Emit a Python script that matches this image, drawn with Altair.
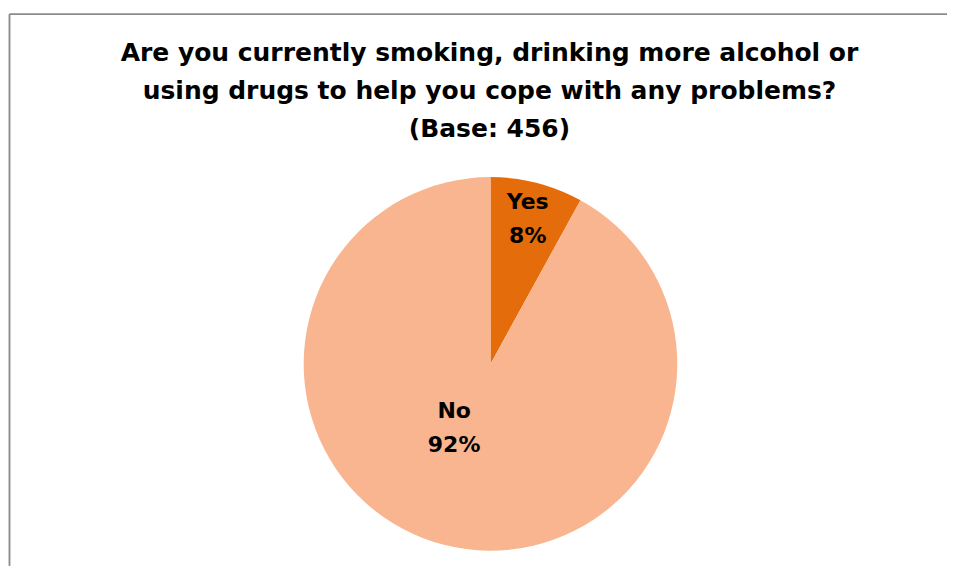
import altair as alt
import pandas as pd

categories = ["Yes", "No"]
percentages = [8, 92]
colors = ["#E46C0A", "#F9B590"]
title_lines = [
    "Are you currently smoking, drinking more alcohol or",
    "using drugs to help you cope with any problems?",
    "(Base: 456)",
]

df = pd.DataFrame({"category": categories, "pct": percentages, "order": list(range(len(categories)))})

W, H = 940, 418
CX, CY = 483, 216
FONT = "DejaVu Sans"

pie = alt.Chart(df).mark_arc(radius=187).encode(
    theta=alt.Theta("pct:Q", stack=True),
    order=alt.Order("order:Q"),
    color=alt.Color("category:N", scale=alt.Scale(domain=categories, range=colors), legend=None),
    x=alt.value(CX),
    y=alt.value(CY),
)

label_base = alt.Chart(df).transform_stack(
    stack="pct", groupby=[], as_=["start", "end"], sort=[alt.SortField("order", "ascending")]
).transform_calculate(
    mid="(datum.start + datum.end) / 2",
    label="datum.category + '\\n' + datum.pct + '%'",
).encode(
    theta=alt.Theta("mid:Q", stack=None),
    text="label:N",
    x=alt.value(CX),
    y=alt.value(CY),
)

txt = dict(font=FONT, fontSize=22, fontWeight="bold", color="#000000", lineBreak="\n",
           lineHeight=34, align="center", baseline="middle", dy=-17)

yes_label = label_base.transform_filter("datum.category == 'Yes'").mark_text(radius=150, **txt)
no_label = label_base.transform_filter("datum.category == 'No'").mark_text(radius=66, dx=-20, **txt)

border_top = alt.Chart(df).mark_rule(color="#8C8C8C", strokeWidth=1.5).encode(
    x=alt.value(1.5), x2=alt.value(W), y=alt.value(-134)
)
border_left = alt.Chart(df).mark_rule(color="#8C8C8C", strokeWidth=1.5).encode(
    x=alt.value(1.5), y=alt.value(-134), y2=alt.value(H)
)

chart = alt.layer(pie, yes_label, no_label, border_top, border_left).properties(
    width=W,
    height=H,
    padding={"left": 0, "top": 5, "right": 0, "bottom": 0},
    title=alt.TitleParams(
        text=title_lines, font=FONT, fontSize=25, fontWeight="bold", color="#000000",
        lineHeight=38, anchor="middle", offset=10, dy=139, dx=12,
    ),
).configure_view(stroke=None)

chart.save("out.html", embed_options={"renderer": "svg", "actions": False})
